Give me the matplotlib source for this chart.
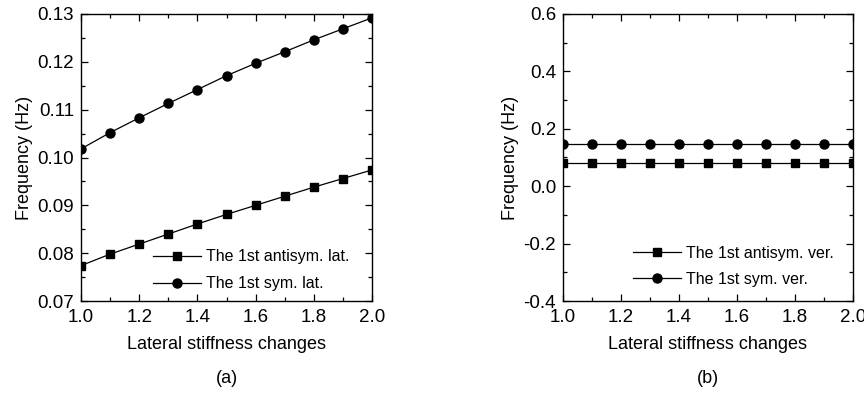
import matplotlib
matplotlib.use('Agg')
import matplotlib.pyplot as plt
from matplotlib.ticker import MultipleLocator, FormatStrFormatter

plt.rcParams['font.family'] = ['Liberation Sans', 'DejaVu Sans']

# Lateral stiffness change factors
stiffness = [1.0, 1.1, 1.2, 1.3, 1.4, 1.5, 1.6, 1.7, 1.8, 1.9, 2.0]

# (a) lateral frequencies
antisym_lat = [0.0774, 0.0798, 0.0819, 0.0840, 0.0861, 0.0881, 0.0900, 0.0919, 0.0938, 0.0956, 0.0974]
sym_lat = [0.1018, 0.1052, 0.1083, 0.1113, 0.1142, 0.1171, 0.1197, 0.1221, 0.1246, 0.1269, 0.1292]

# (b) vertical frequencies
antisym_ver = [0.082, 0.082, 0.082, 0.082, 0.082, 0.082, 0.082, 0.082, 0.082, 0.082, 0.082]
sym_ver = [0.146, 0.146, 0.146, 0.146, 0.146, 0.146, 0.146, 0.146, 0.146, 0.146, 0.146]

W, H = 864, 394
fig = plt.figure(figsize=(W / 100, H / 100), dpi=100)

ax1 = fig.add_axes([81 / W, (H - 301) / H, 291 / W, 287 / H])
ax2 = fig.add_axes([563 / W, (H - 301) / H, 290 / W, 287 / H])

tick_fs = 13.5
label_fs = 13
legend_fs = 11.5


def style_axis(ax):
    ax.tick_params(which='both', direction='in', top=True, right=True,
                   labelsize=tick_fs, width=0.9)
    ax.tick_params(which='major', length=5, pad=5)
    ax.tick_params(which='minor', length=3)
    ax.tick_params(axis='x', which='major', pad=6)
    for s in ax.spines.values():
        s.set_linewidth(1.0)
    ax.set_xlim(1.0, 2.0)
    ax.xaxis.set_major_locator(MultipleLocator(0.2))
    ax.xaxis.set_minor_locator(MultipleLocator(0.1))
    ax.xaxis.set_major_formatter(FormatStrFormatter('%.1f'))
    ax.set_xlabel('Lateral stiffness changes', fontsize=label_fs, labelpad=7)
    ax.set_ylabel('Frequency (Hz)', fontsize=label_fs, labelpad=3)


# (a)
ax1.plot(stiffness, antisym_lat, color='black', lw=0.9, marker='s', ms=6,
         label='The 1st antisym. lat.')
ax1.plot(stiffness, sym_lat, color='black', lw=0.9, marker='o', ms=6.5,
         label='The 1st sym. lat.')
style_axis(ax1)
ax1.set_ylim(0.07, 0.13)
ax1.yaxis.set_major_locator(MultipleLocator(0.01))
ax1.yaxis.set_minor_locator(MultipleLocator(0.005))
ax1.yaxis.set_major_formatter(FormatStrFormatter('%.2f'))
ax1.legend(loc='upper left', bbox_to_anchor=(0.247, 0.18), frameon=False,
           fontsize=legend_fs, borderpad=0, borderaxespad=0, handlelength=3.0,
           handletextpad=0.3, labelspacing=0.75)
ax1.text(0.5, -0.24, '(a)', transform=ax1.transAxes, ha='center', va='top',
         fontsize=label_fs)

# (b)
ax2.plot(stiffness, antisym_ver, color='black', lw=0.9, marker='s', ms=6,
         label='The 1st antisym. ver.')
ax2.plot(stiffness, sym_ver, color='black', lw=0.9, marker='o', ms=6.5,
         label='The 1st sym. ver.')
style_axis(ax2)
ax2.set_ylim(-0.4, 0.6)
ax2.yaxis.set_major_locator(MultipleLocator(0.2))
ax2.yaxis.set_minor_locator(MultipleLocator(0.1))
ax2.yaxis.set_major_formatter(FormatStrFormatter('%.1f'))
ax2.legend(loc='upper left', bbox_to_anchor=(0.241, 0.193), frameon=False,
           fontsize=legend_fs, borderpad=0, borderaxespad=0, handlelength=3.0,
           handletextpad=0.3, labelspacing=0.7)
ax2.text(0.5, -0.24, '(b)', transform=ax2.transAxes, ha='center', va='top',
         fontsize=label_fs)

fig.savefig('out.png', dpi=100)
